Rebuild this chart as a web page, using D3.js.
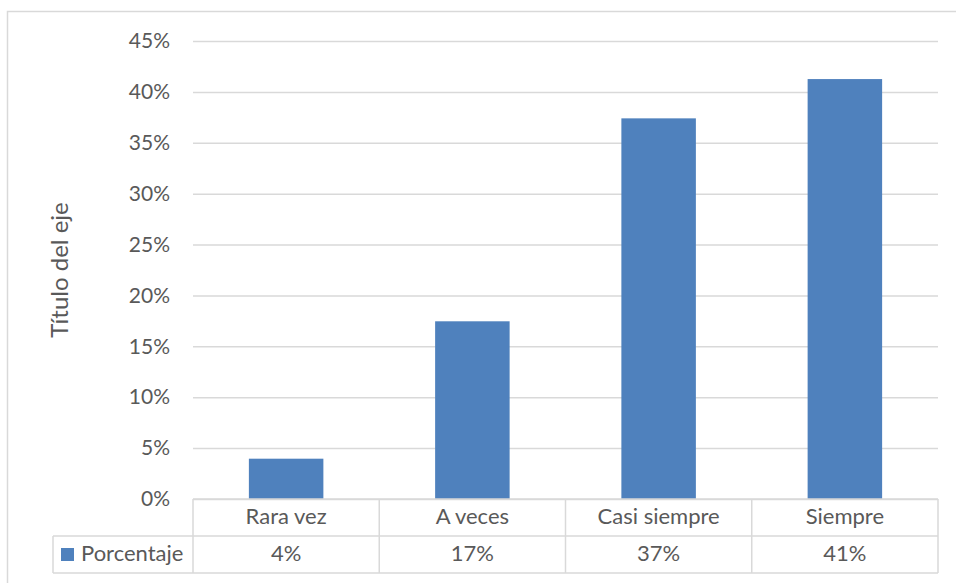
<!DOCTYPE html>
<html>
<head>
<meta charset="utf-8">
<script src="https://cdn.jsdelivr.net/npm/d3@7"></script>
<style>
  html, body { margin: 0; padding: 0; background: #fff; }
  svg { display: block; }
  text { font-family: Lato, "Open Sans", sans-serif; fill: #595959; }
</style>
</head>
<body>
<svg id="chart" width="956" height="583"></svg>
<script>
// Chart data
const categories = ["Rara vez", "A veces", "Casi siempre", "Siempre"];
const seriesName = "Porcentaje";
const values = [0.0396, 0.1746, 0.374, 0.4126];
const yTicks = [0, 0.05, 0.10, 0.15, 0.20, 0.25, 0.30, 0.35, 0.40, 0.45];
const axisTitle = "Título del eje";

const svg = d3.select("#chart");
const W = 956, H = 583;
const plot = { left: 193, right: 938, top: 41, bottom: 499 };
const rowH = 37;
const legendLeft = 53;
const gridColor = "#d9d9d9";
const barColor = "#4f81bd";
const pct = d3.format(".0%");

svg.append("rect").attr("width", W).attr("height", H).attr("fill", "#fff");

// Outer chart frame
svg.append("rect")
  .attr("x", 7.5).attr("y", 11.5)
  .attr("width", 1000).attr("height", 600)
  .attr("fill", "none").attr("stroke", gridColor).attr("stroke-width", 1.5);

const y = d3.scaleLinear().domain([0, 0.45]).range([plot.bottom, plot.top]);
const x = d3.scaleBand().domain(categories)
  .range([plot.left, plot.right])
  .paddingInner(0.6).paddingOuter(0.3);

// Horizontal gridlines and value axis labels
const yAxis = d3.axisLeft(y).tickValues(yTicks).tickFormat(pct)
  .tickSize(-(plot.right - plot.left)).tickPadding(23);
const gy = svg.append("g").attr("transform", `translate(${plot.left},0)`).call(yAxis);
gy.select(".domain").remove();
gy.selectAll(".tick line").attr("stroke", gridColor).attr("stroke-width", 1.5);
gy.selectAll(".tick text")
  .attr("font-size", 21).attr("fill", "#595959")
  .attr("font-family", "Lato, 'Open Sans', sans-serif");

// Axis title
svg.append("text")
  .attr("transform", `translate(68, ${(plot.top + plot.bottom) / 2}) rotate(-90)`)
  .attr("text-anchor", "middle")
  .attr("font-size", 24)
  .text(axisTitle);

// Bars
svg.append("g").selectAll("rect")
  .data(values)
  .join("rect")
  .attr("x", (d, i) => x(categories[i]))
  .attr("width", x.bandwidth())
  .attr("y", d => y(d))
  .attr("height", d => y(0) - y(d))
  .attr("fill", barColor);

// Data table beneath the plot
const step = x.step();
const table = svg.append("g")
  .attr("stroke", gridColor).attr("stroke-width", 1.5).attr("fill", "none");
const r0 = plot.bottom, r1 = plot.bottom + rowH, r2 = plot.bottom + 2 * rowH;
table.append("line").attr("x1", plot.left).attr("x2", plot.right).attr("y1", r0).attr("y2", r0);
table.append("line").attr("x1", legendLeft).attr("x2", plot.right).attr("y1", r1).attr("y2", r1);
table.append("line").attr("x1", legendLeft).attr("x2", plot.right).attr("y1", r2).attr("y2", r2);
table.append("line").attr("x1", legendLeft).attr("x2", legendLeft).attr("y1", r1).attr("y2", r2);
d3.range(categories.length + 1).forEach(i => {
  const xx = plot.left + i * step;
  table.append("line").attr("x1", xx).attr("x2", xx).attr("y1", r0).attr("y2", r2);
});

// Category labels
svg.append("g").selectAll("text")
  .data(categories)
  .join("text")
  .attr("x", d => x(d) + x.bandwidth() / 2)
  .attr("y", r0 + 25)
  .attr("text-anchor", "middle")
  .attr("font-size", 22)
  .text(d => d);

// Value labels
svg.append("g").selectAll("text")
  .data(values)
  .join("text")
  .attr("x", (d, i) => x(categories[i]) + x.bandwidth() / 2)
  .attr("y", r1 + 25)
  .attr("text-anchor", "middle")
  .attr("font-size", 22)
  .text(d => pct(d));

// Legend key in the table
svg.append("rect")
  .attr("x", 61).attr("y", r1 + 12)
  .attr("width", 13).attr("height", 13)
  .attr("fill", barColor);
svg.append("text")
  .attr("x", 81).attr("y", r1 + 25)
  .attr("font-size", 22)
  .text(seriesName);
</script>
</body>
</html>
